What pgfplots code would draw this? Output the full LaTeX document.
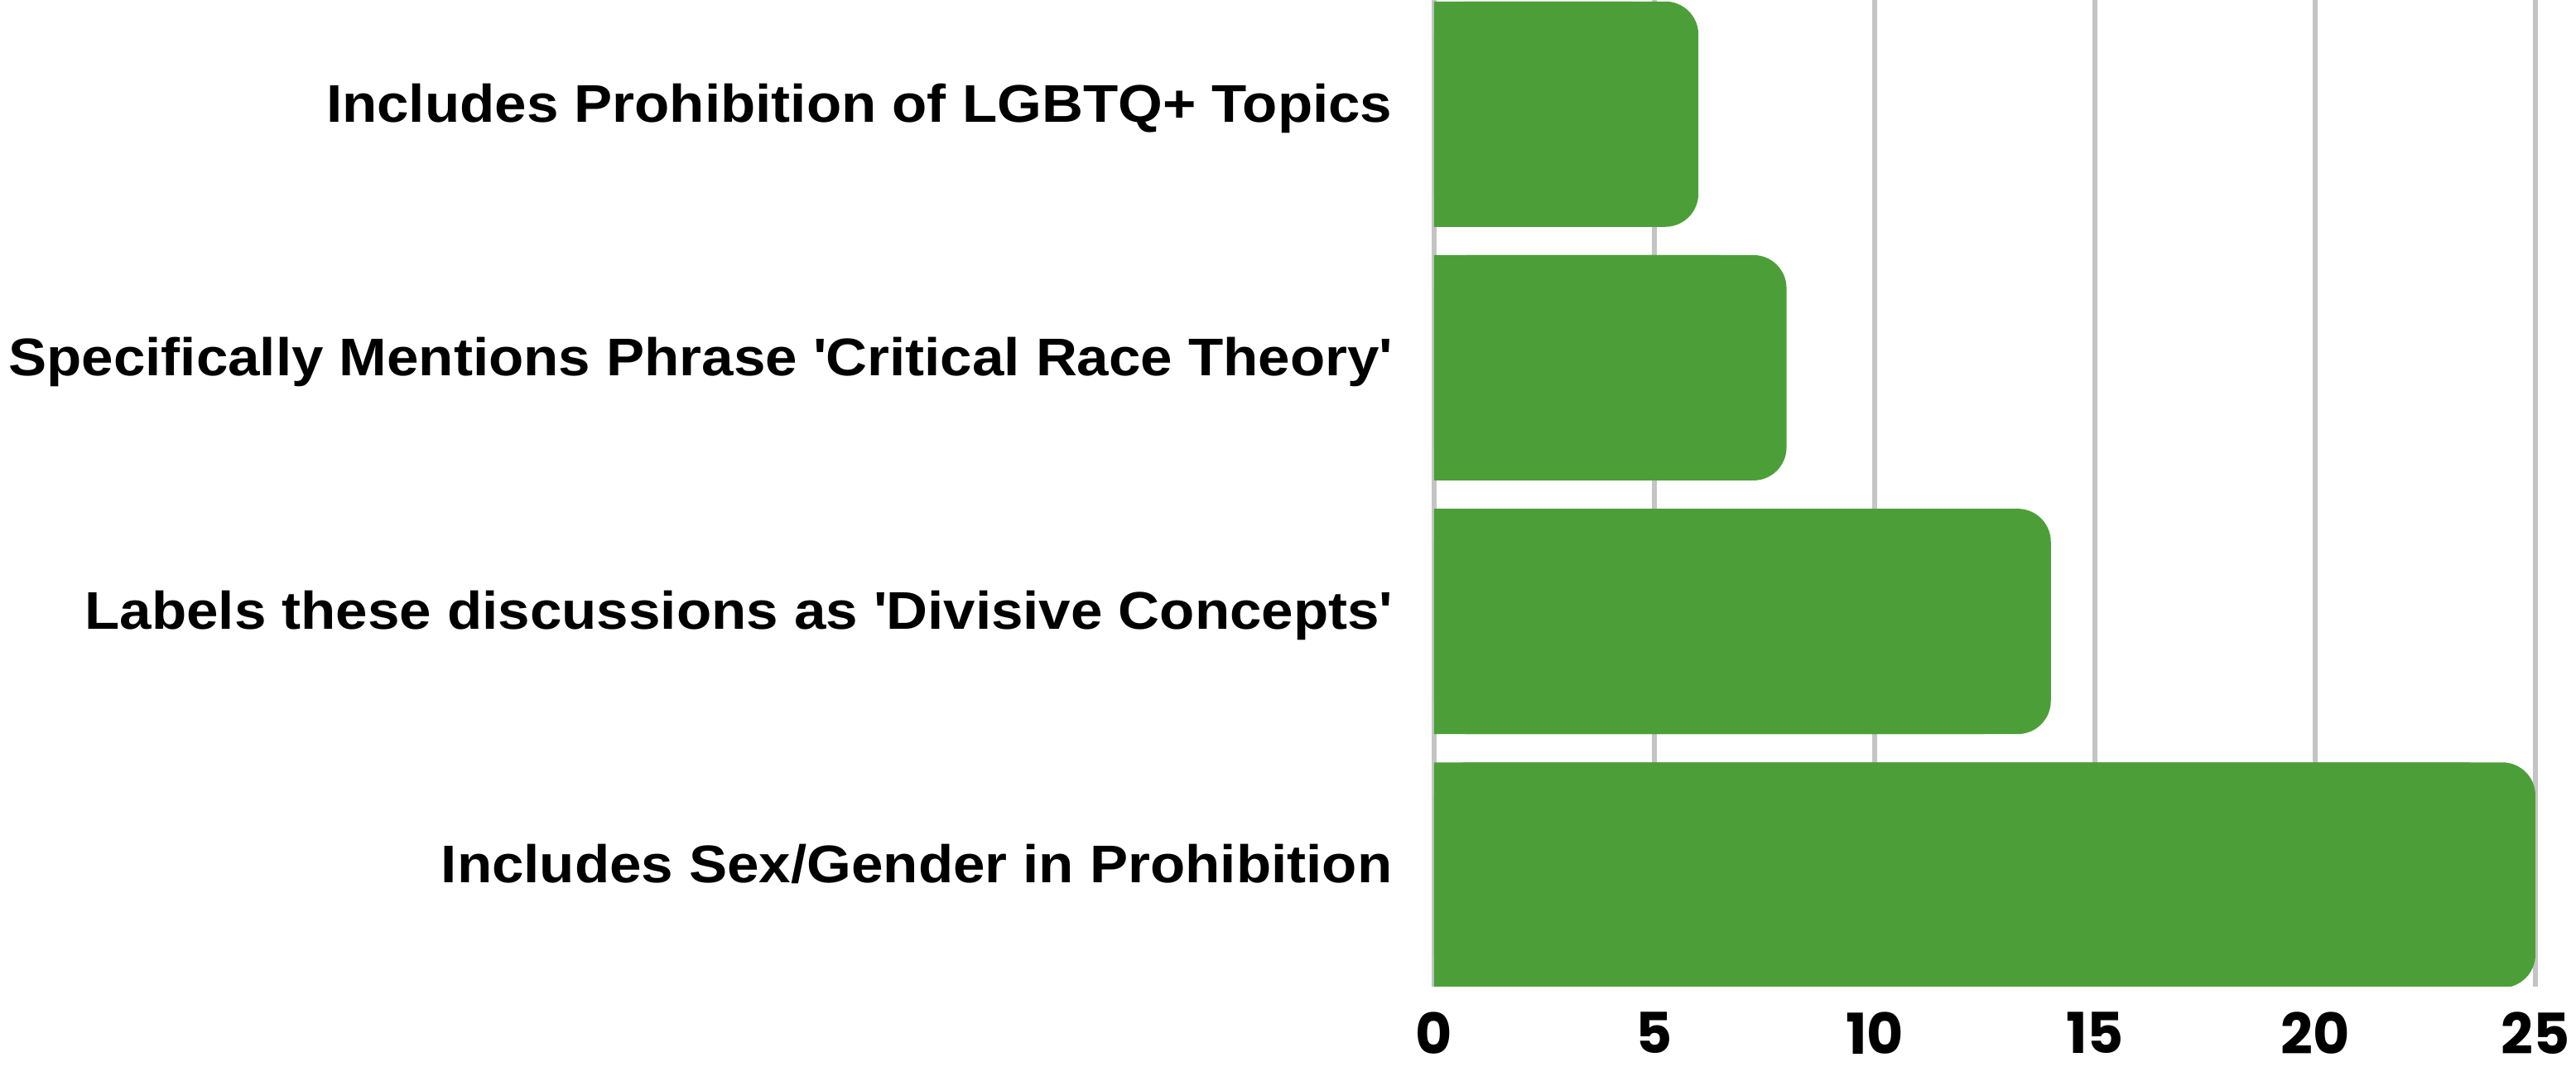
\documentclass[border=0pt]{standalone}
\usepackage{fontspec}
\usepackage{pgfplots}
\usepackage{pgfplotstable}
\pgfplotsset{compat=1.18}
\newfontfamily\pop{Poppins}
\newfontfamily\lab{Liberation Sans}[FakeStretch=1.08]
\definecolor{barg}{HTML}{4C9F38}
\definecolor{gridg}{HTML}{C4C4C4}
\pgfplotstableread{
y v
0 25
1 14
2 8
3 6
}\data
\begin{document}
\begin{tikzpicture}
\path[use as bounding box] (-433bp,-24.25bp) rectangle (344.75bp,297.75bp);
\begin{axis}[
  at={(0,0)}, anchor=south west,
  scale only axis, width=332.5bp, height=297.75bp,
  xmin=0, xmax=25, ymin=-0.44, ymax=3.45,
  axis line style={draw=none},
  xtick={0,5,10,15,20,25},
  ytick={0,1,2,3},
  yticklabels={Includes Sex/Gender in Prohibition,
    Labels these discussions as \textquotesingle Divisive Concepts\textquotesingle,
    Specifically Mentions Phrase \textquotesingle Critical Race Theory\textquotesingle,
    Includes Prohibition of LGBTQ+ Topics},
  major tick length=0pt,
  xmajorgrids,
  grid style={line width=1.5bp, color=gridg},
  yticklabel style={font=\lab\bfseries\fontsize{16bp}{19bp}\selectfont, anchor=base east, inner sep=0pt, xshift=-12.5bp, yshift=-2.4bp},
  xticklabel style={font=\pop\bfseries\fontsize{17bp}{20bp}\selectfont, anchor=north, inner sep=0pt, yshift=-7.4bp},
  /pgf/number format/assume math mode=true,
  clip=true,
]
\addplot[xbar, bar width=68bp, bar shift=0pt, fill=barg, draw=none, rounded corners=10bp] table[x=v, y=y]{\data};
\addplot[xbar, bar width=68bp, bar shift=0pt, fill=barg, draw=none] table[x expr=\thisrow{v}-1.5, y=y]{\data};
\end{axis}
\end{tikzpicture}
\end{document}
